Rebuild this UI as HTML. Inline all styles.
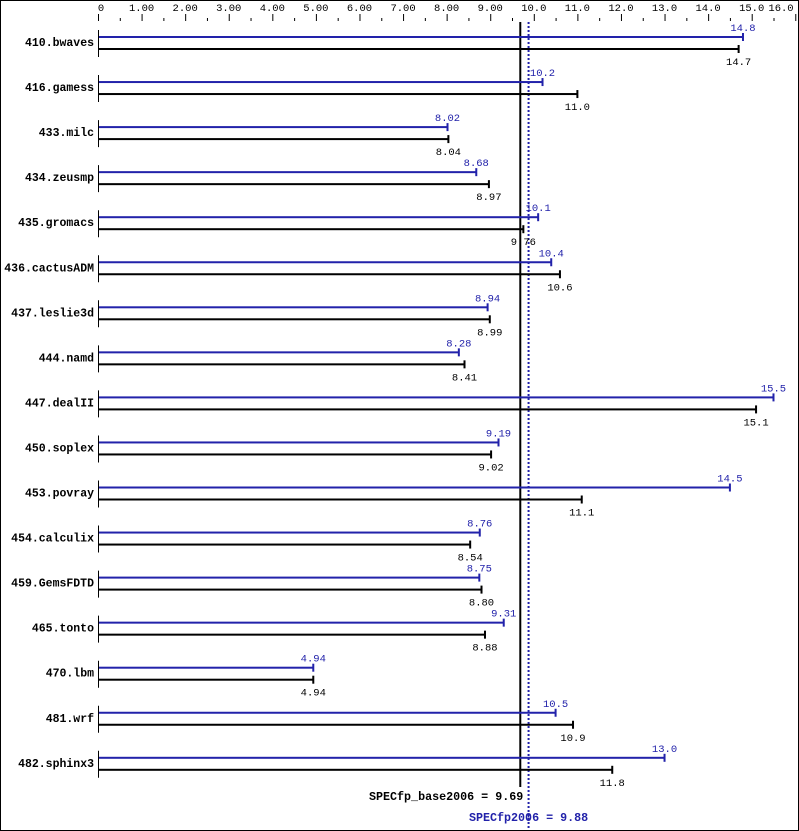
<!DOCTYPE html>
<html><head><meta charset="utf-8"><style>
body{margin:0;background:#fff}
svg{display:block}
text{font-family:"Liberation Mono","DejaVu Sans Mono",monospace;font-size:10.5px}
.n{font-weight:bold;font-size:11.5px}
.m{font-weight:bold;font-size:11.7px}
.b{fill:#2222aa}
</style></head><body>
<svg width="799" height="831" xmlns="http://www.w3.org/2000/svg">
<rect x="0.5" y="0.5" width="798" height="830" fill="#fff" stroke="#000"/>
<g id="axis"></g>
<g id="rows"></g>
</svg>
<script>
var S=43.58,X0=98;
function px(v){return X0+v*S;}
var ax='';
for(var i=0;i<=32;i++){var x=px(i/2);ax+='<line x1="'+(x+.5)+'" x2="'+(x+.5)+'" y1="'+(i%2?18:14)+'" y2="21" stroke="#000"/>';}
var labs=['0','1.00','2.00','3.00','4.00','5.00','6.00','7.00','8.00','9.00','10.0','11.0','12.0','13.0','14.0','15.0','16.0'];
for(var i=0;i<labs.length;i++){var lx=i==0?px(0)+3:px(i);if(i==16)lx=781;ax+='<text x="'+lx+'" y="11" text-anchor="middle">'+labs[i]+'</text>';}
ax+='<line x1="'+px(9.69)+'" x2="'+px(9.69)+'" y1="22" y2="787" stroke="#000" stroke-width="2"/>';
ax+='<line x1="'+px(9.88)+'" x2="'+px(9.88)+'" y1="22" y2="830" stroke="#2222aa" stroke-width="2" stroke-dasharray="2,2"/>';
ax+='<text class="m" x="'+(px(9.69)+3)+'" y="800" text-anchor="end">SPECfp_base2006 = 9.69</text>';
ax+='<text class="m b" x="'+px(9.88)+'" y="821" text-anchor="middle">SPECfp2006 = 9.88</text>';
document.getElementById('axis').innerHTML=ax;
var d=[['410.bwaves',14.8,'14.8',14.7,'14.7'],['416.gamess',10.2,'10.2',11.0,'11.0'],['433.milc',8.02,'8.02',8.04,'8.04'],['434.zeusmp',8.68,'8.68',8.97,'8.97'],['435.gromacs',10.1,'10.1',9.76,'9.76'],['436.cactusADM',10.4,'10.4',10.6,'10.6'],['437.leslie3d',8.94,'8.94',8.99,'8.99'],['444.namd',8.28,'8.28',8.41,'8.41'],['447.dealII',15.5,'15.5',15.1,'15.1'],['450.soplex',9.19,'9.19',9.02,'9.02'],['453.povray',14.5,'14.5',11.1,'11.1'],['454.calculix',8.76,'8.76',8.54,'8.54'],['459.GemsFDTD',8.75,'8.75',8.80,'8.80'],['465.tonto',9.31,'9.31',8.88,'8.88'],['470.lbm',4.94,'4.94',4.94,'4.94'],['481.wrf',10.5,'10.5',10.9,'10.9'],['482.sphinx3',13.0,'13.0',11.8,'11.8']];
var r='';
for(var k=0;k<d.length;k++){var y=37+k*45.05,yb=y+12;
r+='<text class="n" x="94" y="'+(y+9)+'" text-anchor="end">'+d[k][0]+'</text>';
r+='<line x1="98.5" x2="98.5" y1="'+(y-7)+'" y2="'+(yb+8)+'" stroke="#000"/>';
var bx=px(d[k][1]),kx=px(d[k][3]);
r+='<rect x="99" y="'+(y-1)+'" width="'+(bx-99)+'" height="2" fill="#2222aa"/>';
r+='<rect x="'+(bx-1)+'" y="'+(y-4)+'" width="2" height="8" fill="#2222aa"/>';
r+='<rect x="99" y="'+(yb-1)+'" width="'+(kx-99)+'" height="2" fill="#000"/>';
r+='<rect x="'+(kx-1)+'" y="'+(yb-4)+'" width="2" height="8" fill="#000"/>';
r+='<text class="b" x="'+bx+'" y="'+(y-6)+'" text-anchor="middle">'+d[k][2]+'</text>';
r+='<text x="'+kx+'" y="'+(yb+16)+'" text-anchor="middle">'+d[k][4]+'</text>';}
document.getElementById('rows').innerHTML=r;
</script>
</body></html>
